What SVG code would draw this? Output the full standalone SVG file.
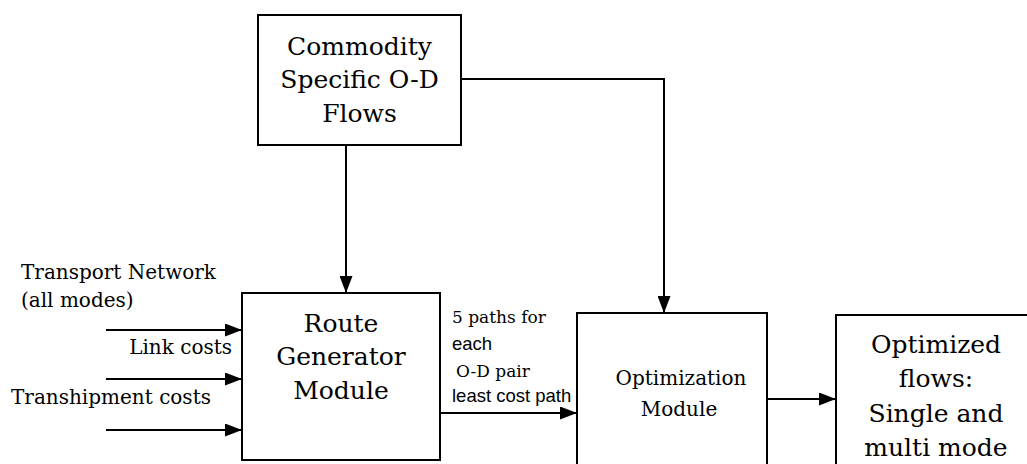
<svg xmlns="http://www.w3.org/2000/svg" width="1027" height="464" viewBox="0 0 1027 464">
  <style>
    .box { fill: #ffffff; stroke: #000000; stroke-width: 2; }
    .wire { fill: none; stroke: #000000; stroke-width: 2; }
    .serif { font-family: "DejaVu Serif", "Liberation Serif", serif; fill: #000000; }
    .sans { font-family: "Liberation Sans", Arial, sans-serif; fill: #000000; }
    .big { font-size: 25px; text-anchor: middle; }
    .mid { font-size: 20px; text-anchor: middle; }
    .lbl { font-size: 20px; }
    .small { font-size: 17px; }
    .small-sans { font-size: 18.5px; }
  </style>
  <defs>
    <marker id="arrow" viewBox="0 0 17 13" refX="17" refY="6.5" markerWidth="17" markerHeight="13" markerUnits="userSpaceOnUse" orient="auto">
      <path d="M0,0 L17,6.5 L0,13 Z" fill="#000000"/>
    </marker>
  </defs>
  <rect width="1027" height="464" fill="#ffffff"/>

  <g id="connectors">
    <path class="wire" d="M346,145 V293" marker-end="url(#arrow)"/>
    <path class="wire" d="M461,79 H664 V313" marker-end="url(#arrow)"/>
    <path class="wire" d="M106,330 H242" marker-end="url(#arrow)"/>
    <path class="wire" d="M106,379 H242" marker-end="url(#arrow)"/>
    <path class="wire" d="M106,430 H242" marker-end="url(#arrow)"/>
    <path class="wire" d="M440,413 H577" marker-end="url(#arrow)"/>
    <path class="wire" d="M767,399 H836" marker-end="url(#arrow)"/>
  </g>

  <g id="commodity-flows">
    <rect class="box" x="258" y="15" width="203" height="130"/>
    <text class="serif big" x="359.5" y="55">Commodity</text>
    <text class="serif big" x="359.5" y="88">Specific O-D</text>
    <text class="serif big" x="359.5" y="122">Flows</text>
  </g>

  <g id="route-generator">
    <rect class="box" x="242" y="293" width="198" height="167"/>
    <text class="serif big" x="341" y="332">Route</text>
    <text class="serif big" x="341" y="365">Generator</text>
    <text class="serif big" x="341" y="399">Module</text>
  </g>

  <g id="optimization">
    <rect class="box" x="577" y="313" width="190" height="160"/>
    <text class="serif mid" x="681" y="385">Optimization</text>
    <text class="serif mid" x="679" y="416">Module</text>
  </g>

  <g id="optimized-flows">
    <rect class="box" x="836" y="315" width="200" height="160"/>
    <text class="serif big" x="936" y="353">Optimized</text>
    <text class="serif big" x="936" y="387">flows:</text>
    <text class="serif big" x="936" y="422">Single and</text>
    <text class="serif big" x="936" y="456">multi mode</text>
  </g>

  <g id="inputs">
    <text class="serif lbl" x="21" y="279">Transport Network</text>
    <text class="serif lbl" x="21" y="307">(all modes)</text>
    <text class="serif lbl" x="232" y="354" text-anchor="end">Link costs</text>
    <text class="serif lbl" x="11" y="404">Transhipment costs</text>
  </g>

  <g id="path-label">
    <text class="serif small" x="452" y="323">5 paths for</text>
    <text class="sans small-sans" x="452" y="350">each</text>
    <text class="serif small" x="456" y="377">O-D pair</text>
    <text class="sans small-sans" x="452" y="402">least cost path</text>
  </g>
</svg>
